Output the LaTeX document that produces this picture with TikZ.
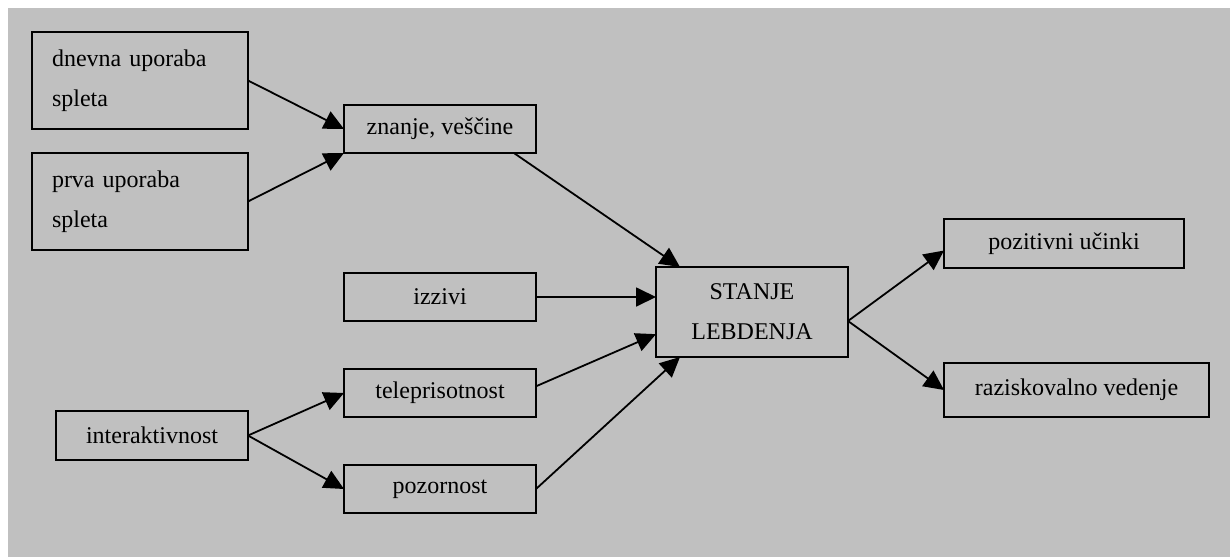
\documentclass[tikz,border=0pt]{standalone}
\usepackage{fontspec}
\setmainfont{Liberation Serif}
\usetikzlibrary{positioning,arrows.meta}
\definecolor{panelgray}{RGB}{192,192,192}
\begin{document}
\begin{tikzpicture}[x=0.5pt,y=-0.5pt]
    \tikzset{
      box/.style = {draw, line width=1pt, inner sep=0pt, outer sep=0pt,
      minimum width=96pt, minimum height=24pt, align=center,
      font=\fontsize{12}{20}\selectfont},
      leftbox/.style = {box, text width=88pt, inner xsep=10pt,
      align=left, minimum height=48.5pt},
      arr/.style = {-{Triangle[length=10pt,width=9.5pt]}, line width=0.9pt}
    }

    \fill[white] (0,0) rectangle (1230,557);
    \fill[panelgray] (8,8) rectangle (1230,557);
    \useasboundingbox (0,0) rectangle (1230,557);

    \node[leftbox] at (140,80.5) (dnevna) {dnevna uporaba\\spleta};
    \node[leftbox, below=12pt of dnevna] (prva) {prva uporaba\\spleta};

    \node[box] at (440,129) (znanje) {znanje, veščine};
    \node[box, below=60pt of znanje] (izzivi) {izzivi};
    \node[box, below=24pt of izzivi] (tele) {teleprisotnost};
    \node[box, below=24pt of tele] (pozor) {pozornost};
    \node[box, minimum height=24.5pt] at (152,435.5) (inter) {interaktivnost};

    \node[box, minimum height=45pt] at (752,312) (stanje) {STANJE\\LEBDENJA};
    \node[box, minimum width=120pt, minimum height=24.5pt] at (1064,243.5) (pozit)
      {pozitivni učinki};
    \node[box, minimum width=132.5pt, minimum height=27pt] at (1076.5,390) (razisk)
      {raziskovalno vedenje};

    \coordinate (fork) at ([yshift=-4.5pt]stanje.east);

    \draw[arr] (dnevna.east) -- (znanje.west);
    \draw[arr] (prva.east) -- (znanje.south west);
    \draw[arr] (znanje.-18) -- (stanje.148);
    \draw[arr] (izzivi.east) -- (izzivi.east -| stanje.west);
    \draw[arr] (tele.4) -- (stanje.193);
    \draw[arr] (pozor.east) -- (stanje.212);
    \draw[arr] (inter.east) -- (tele.west);
    \draw[arr] (inter.east) -- (pozor.west);
    \draw[arr] (fork) -- ([yshift=-3.5pt]pozit.west);
    \draw[arr] (fork) -- (razisk.west);
  \end{tikzpicture}
\end{document}
